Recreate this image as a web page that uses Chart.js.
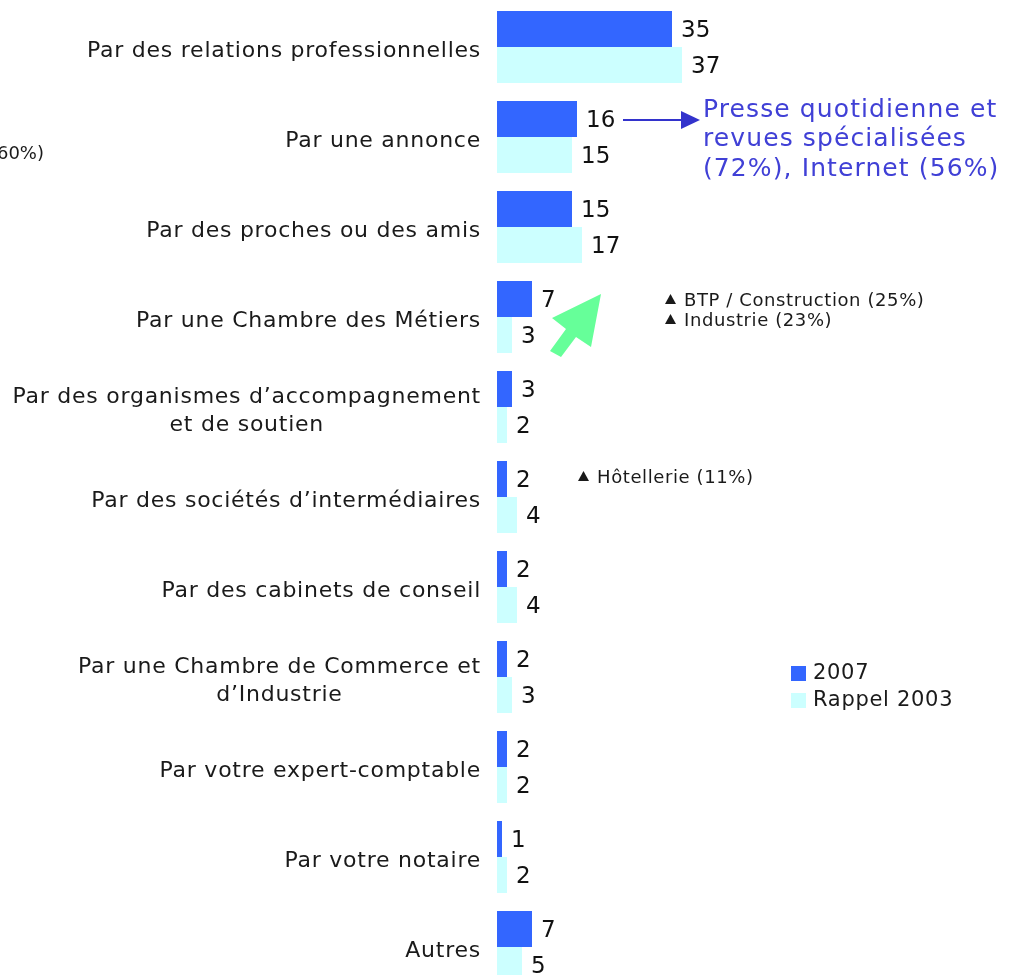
<!DOCTYPE html>
<html>
<head>
<meta charset="utf-8">
<script src="https://cdn.jsdelivr.net/npm/chart.js@4/dist/chart.umd.min.js"></script>
<style>
  html, body { margin: 0; padding: 0; background: #fff; overflow: hidden; }
  #wrap { position: relative; width: 1015px; height: 1000px; }
</style>
</head>
<body>
<div id="wrap"><canvas id="myChart"></canvas></div>
<script>
// categories (lines of each label)
const categories = [
  ["Par des relations professionnelles"],
  ["Par une annonce"],
  ["Par des proches ou des amis"],
  ["Par une Chambre des Métiers"],
  ["Par des organismes d’accompagnement", "et de soutien"],
  ["Par des sociétés d’intermédiaires"],
  ["Par des cabinets de conseil"],
  ["Par une Chambre de Commerce et", "d’Industrie"],
  ["Par votre expert-comptable"],
  ["Par votre notaire"],
  ["Autres"]
]
const values2007 = [35, 16, 15, 7, 3, 2, 2, 2, 2, 1, 7]
const values2003 = [37, 15, 17, 3, 2, 4, 4, 3, 2, 2, 5]
const seriesNames = ["2007", "Rappel 2003"]

const blue = "#3366FF"
const cyan = "#CCFFFF"
const font = "'DejaVu Sans', Verdana, sans-serif"

// dessine les libellés, valeurs et annotations
const drawExtras = {
  id: "drawExtras",
  afterDatasetsDraw(chart) {
    const ctx = chart.ctx
    const yScale = chart.scales.y
    ctx.save()

    // libellés des catégories
    ctx.fillStyle = "#1a1a1a"
    ctx.font = "22px " + font
    ctx.letterSpacing = "0.75px"
    ctx.textBaseline = "middle"
    categories.forEach((lines, i) => {
      const yc = yScale.getPixelForValue(i)
      const lh = 28
      const right = 481
      let maxW = 0
      lines.forEach(l => { maxW = Math.max(maxW, ctx.measureText(l).width) })
      lines.forEach((l, k) => {
        const y = yc + (k - (lines.length - 1) / 2) * lh + 4
        if (lines.length === 1) {
          ctx.textAlign = "right"
          ctx.fillText(l, right, y)
        } else {
          ctx.textAlign = "center"
          ctx.fillText(l, right - maxW / 2, y)
        }
      })
    })
    ctx.letterSpacing = "0px"

    // valeurs au bout des barres
    ctx.font = "23px " + font
    ctx.textAlign = "left"
    ctx.fillStyle = "#111"
    chart.data.datasets.forEach((ds, di) => {
      chart.getDatasetMeta(di).data.forEach((bar, i) => {
        ctx.fillText(String(ds.data[i]), bar.x + 9, bar.y + 2)
      })
    })

    // flèche + texte presse
    const yAnn = yScale.getPixelForValue(1) - 17
    ctx.strokeStyle = "#3333CC"
    ctx.fillStyle = "#3333CC"
    ctx.lineWidth = 2
    ctx.beginPath()
    ctx.moveTo(623, yAnn)
    ctx.lineTo(684, yAnn)
    ctx.stroke()
    ctx.beginPath()
    ctx.moveTo(700, yAnn)
    ctx.lineTo(681, yAnn - 9)
    ctx.lineTo(681, yAnn + 9)
    ctx.closePath()
    ctx.fill()

    ctx.fillStyle = "#4040D6"
    ctx.font = "25px " + font
    ctx.letterSpacing = "1.1px"
    ctx.textAlign = "left"
    ctx.textBaseline = "alphabetic"
    ctx.fillText("Presse quotidienne et", 703, 117)
    ctx.fillText("revues spécialisées", 703, 146)
    ctx.fillText("(72%), Internet (56%)", 703, 176)
    ctx.letterSpacing = "0px"

    // texte coupé à gauche
    ctx.fillStyle = "#1a1a1a"
    ctx.font = "18px " + font
    ctx.textAlign = "right"
    ctx.textBaseline = "middle"
    ctx.fillText("(60%)", 44, 154)

    // flèche verte
    ctx.fillStyle = "#66FF99"
    ctx.beginPath()
    ctx.moveTo(601, 294)
    ctx.lineTo(552, 318)
    ctx.lineTo(566, 329)
    ctx.lineTo(550, 351)
    ctx.lineTo(561, 357)
    ctx.lineTo(576, 337)
    ctx.lineTo(591, 347)
    ctx.closePath()
    ctx.fill()

    // notes secteurs
    ctx.fillStyle = "#1a1a1a"
    ctx.font = "18px " + font
    ctx.textAlign = "left"
    ctx.letterSpacing = "0.6px"
    const notes = [
      ["BTP / Construction (25%)", 665, 300],
      ["Industrie (23%)", 665, 320],
      ["Hôtellerie (11%)", 578, 477]
    ]
    notes.forEach(n => {
      const x = n[1], y = n[2]
      ctx.beginPath()
      ctx.moveTo(x, y + 4)
      ctx.lineTo(x + 11, y + 4)
      ctx.lineTo(x + 5.5, y - 6)
      ctx.closePath()
      ctx.fill()
      ctx.fillText(n[0], x + 19, y + 1)
    })

    // légende
    ctx.font = "21px " + font
    ctx.letterSpacing = "0.7px"
    const cols = [blue, cyan]
    seriesNames.forEach((name, i) => {
      const y = 666 + i * 27
      ctx.fillStyle = cols[i]
      ctx.fillRect(791, y, 15, 15)
      ctx.fillStyle = "#1a1a1a"
      ctx.fillText(name, 813, y + 8)
    })
    ctx.letterSpacing = "0px"

    ctx.restore()
  }
}

const chart = new Chart("myChart", {
  type: "bar",
  data: {
    labels: categories.map(c => c.join(" ")),
    datasets: [{
        label: seriesNames[0],
        backgroundColor: blue,
        borderWidth: 0,
        data: values2007
      },{
        label: seriesNames[1],
        backgroundColor: cyan,
        borderWidth: 0,
        data: values2003
      }
    ]
  },
  options: {
    indexAxis: "y",
    responsive: true,
    maintainAspectRatio: false,
    animation: false,
    layout: { padding: { left: 497, right: 18, top: 2, bottom: 8 } },
    datasets: { bar: { categoryPercentage: 0.8, barPercentage: 1.0 } },
    plugins: {
      legend: { display: false },
      tooltip: { enabled: false }
    },
    scales: {
      x: { display: false, min: 0, max: 100 },
      y: { display: false }
    }
  },
  plugins: [drawExtras]
})
</script>
</body>
</html>
